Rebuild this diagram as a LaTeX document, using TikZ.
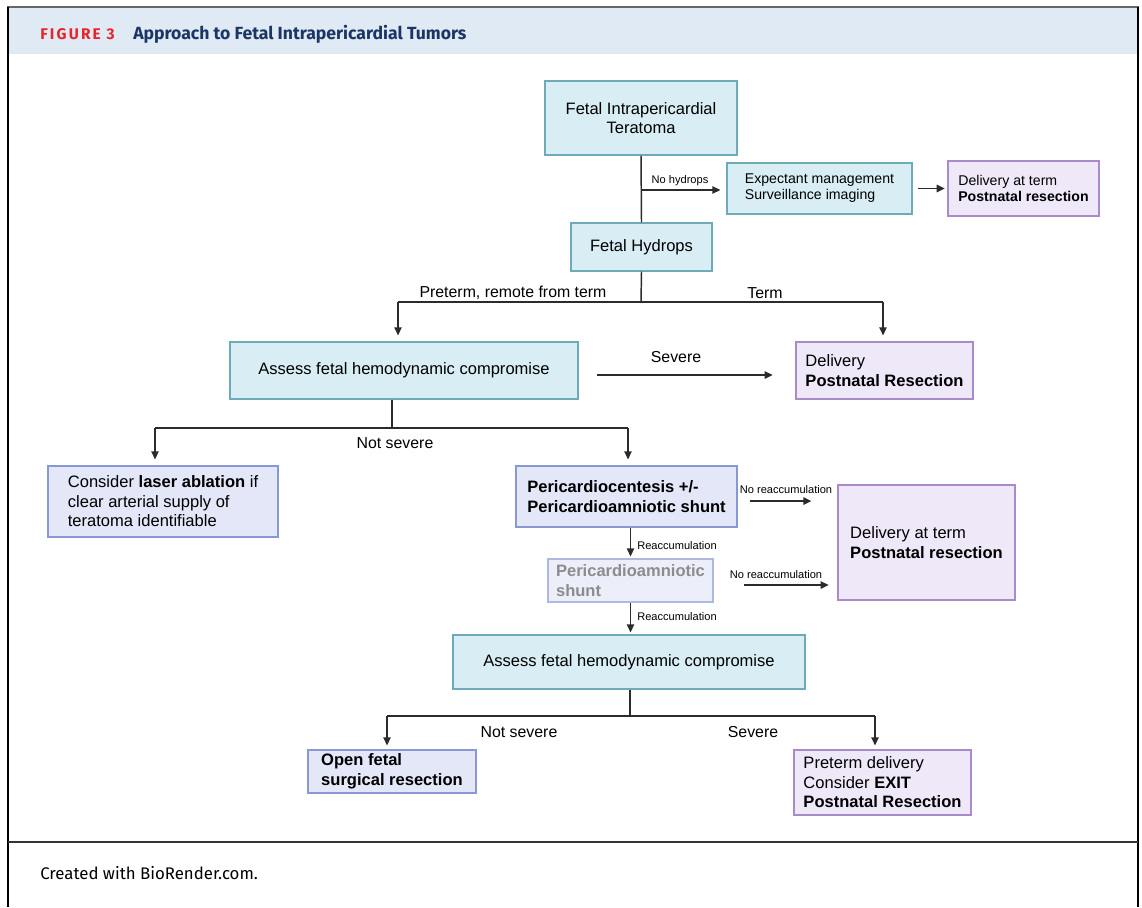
\documentclass[tikz,border=0pt]{standalone}
\usepackage{fontspec}
\setmainfont{Liberation Sans}
\newfontfamily\headfont{Fira Sans}
\newfontfamily\figfont[LetterSpace=14]{Fira Sans}
\usetikzlibrary{arrows.meta,calc}
\definecolor{cyanfill}{HTML}{D8EEF4}
\definecolor{cyanline}{HTML}{6FAAB9}
\definecolor{bluefill}{HTML}{E3E7F8}
\definecolor{blueline}{HTML}{8898D4}
\definecolor{purpfill}{HTML}{EFE8F8}
\definecolor{purpline}{HTML}{A98BC9}
\definecolor{fadefill}{HTML}{ECEFFA}
\definecolor{fadeline}{HTML}{AEB8E2}
\definecolor{fadetext}{HTML}{8C8C8C}
\definecolor{headfill}{HTML}{DFEAF5}
\definecolor{figred}{HTML}{E4262C}
\definecolor{figblue}{HTML}{1B3565}
\definecolor{linecol}{HTML}{2B2B2B}
\tikzset{
  bx/.style 2 args={draw, line width=0.9pt, inner sep=0pt, minimum width=#1*0.75pt, minimum height=#2*0.75pt},
  cyanbox/.style={fill=cyanfill, draw=cyanline},
  bluebox/.style={fill=bluefill, draw=blueline},
  purpbox/.style={fill=purpfill, draw=purpline},
  fadebox/.style={fill=fadefill, draw=fadeline, text=fadetext},
  big/.style={font=\fontsize{12.4}{14.6}\selectfont},
  mid/.style={font=\fontsize{10.6}{12}\selectfont},
  lab/.style={font=\fontsize{11.9}{14}\selectfont, inner sep=0pt},
  tiny/.style={font=\fontsize{8.3}{10}\selectfont, inner sep=0pt},
  conn/.style={draw=linecol, line width=1.1pt},
  arr/.style={conn, -{Triangle[length=6pt,width=5.5pt]}},
}
\begin{document}
\begin{tikzpicture}[x=0.75pt,y=-0.75pt]
\useasboundingbox (0,0) rectangle (1142,907);
% frame and header
\fill[headfill] (8,8) rectangle (1138,54);
\draw[draw=gray!80!black, line width=1.2pt] (7,7) -- (1139,7);
\draw[line width=1.6pt] (8,7) -- (8,907);
\draw[line width=1.6pt] (1138,7) -- (1138,907);
\draw[draw=black!80, line width=1.3pt] (8,842) -- (1138,842);
\node[anchor=base west, inner sep=0pt, text=figred, font=\figfont\bfseries\fontsize{11.6}{12}\selectfont] (figlab) at (40,39) {FIGURE 3};
\node[anchor=base west, inner sep=0pt, text=figblue, font=\headfont\bfseries\fontsize{13.2}{14}\selectfont] (figtitle) at (133,39) {Approach to Fetal Intrapericardial Tumors};
\node[anchor=base west, inner sep=0pt, font=\headfont\fontsize{12.6}{14}\selectfont] (credit) at (40,879) {Created with BioRender.com.};

% boxes
\node[bx={192}{74}, cyanbox, big, align=center] (top) at (641,118) {Fetal Intrapericardial\\Teratoma};
\node[bx={185}{51}, cyanbox, mid, align=left] (exp) at (819.5,188.5) {Expectant management\\Surveillance imaging};
\node[bx={151}{55}, purpbox, mid, align=left] (del1) at (1023.5,188.5) {Delivery at term\\\textbf{Postnatal resection}};
\node[bx={141}{48}, cyanbox, big] (hyd) at (641.5,247) {\raisebox{-1.5pt}{Fetal Hydrops}};
\node[bx={348}{57}, cyanbox, big] (ass1) at (404,370.5) {\raisebox{-1.5pt}{Assess fetal hemodynamic compromise}};
\node[bx={177}{57}, purpbox, big, align=left] (del2) at (884.5,370.5) {Delivery\\\textbf{Postnatal Resection}};
\node[bx={230}{71}, bluebox, big, align=left] (laser) at (163,501.5) {Consider \textbf{laser ablation} if\\clear arterial supply of\\teratoma identifiable};
\node[bx={221}{61}, bluebox, big, align=left, font=\bfseries\fontsize{12.4}{15}\selectfont] (peri) at (626.5,496.5) {Pericardiocentesis +/-\\Pericardioamniotic shunt};
\node[bx={177}{115}, purpbox, big, align=left] (del3) at (926.5,542.5) {Delivery at term\\\textbf{Postnatal resection}};
\node[bx={165}{43}, fadebox, big, align=left, font=\bfseries\fontsize{12.4}{15}\selectfont] (shunt) at (630.5,580.5) {Pericardioamniotic\\shunt};
\node[bx={352}{54}, cyanbox, big] (ass2) at (629,662) {\raisebox{-1.5pt}{Assess fetal hemodynamic compromise}};
\node[bx={168}{43}, bluebox, big, align=left, font=\bfseries\fontsize{12.4}{15}\selectfont] (open) at (392,771.5) {Open fetal\\surgical resection};
\node[bx={177}{65}, purpbox, big, align=left] (pre) at (882.5,782.5) {Preterm delivery\\Consider \textbf{EXIT}\\\textbf{Postnatal Resection}};

% junction coordinates
\coordinate (nh) at (641,190);
\coordinate (j1) at (641,302);
\coordinate (j1l) at (398,302);
\coordinate (j1r) at (883,302);
\coordinate (j2) at (392,428);
\coordinate (j2l) at (155,428);
\coordinate (j2r) at (628,428);
\coordinate (j3) at (630,716);
\coordinate (j3l) at (387,716);
\coordinate (j3r) at (875,716);

% connectors
\draw[conn] (top.south) -- (hyd.north);
\draw[arr, shorten >=4.5pt] (nh) -- (exp.west |- nh);
\draw[arr, shorten <=4pt, shorten >=2pt] (exp.east) -- (del1.west);
\draw[conn] (hyd.south) -- (j1);
\draw[conn] (j1l) -- (j1r);
\draw[arr, shorten >=4.5pt] (j1l) -- (ass1.north -| j1l);
\draw[arr, shorten >=4.5pt] (j1r) -- (del2.north -| j1r);
\draw[arr, shorten <=13.5pt, shorten >=17pt] ([yshift=-3.4pt]ass1.east) -- ([yshift=-3.4pt]del2.west);
\draw[conn] (ass1.south -| j2) -- (j2);
\draw[conn] (j2l) -- (j2r);
\draw[arr, shorten >=4.5pt] (j2l) -- (laser.north -| j2l);
\draw[arr, shorten >=4.5pt] (j2r) -- (peri.north -| j2r);
\draw[arr, shorten <=9pt, shorten >=19.5pt] ([yshift=-3.4pt]peri.east) -- ([yshift=-3.4pt]del3.west |- peri.east);
\draw[arr, shorten >=1.5pt] (peri.south -| shunt.north) -- (shunt.north);
\draw[arr, shorten <=23pt, shorten >=6.5pt] ([yshift=-3.4pt]shunt.east) -- ([yshift=-3.4pt]del3.west |- shunt.east);
\draw[arr, shorten >=1.5pt] (shunt.south) -- (ass2.north -| shunt.south);
\draw[conn] (ass2.south -| j3) -- (j3);
\draw[conn] (j3l) -- (j3r);
\draw[arr, shorten >=3pt] (j3l) -- (open.north -| j3l);
\draw[arr, shorten >=3pt] (j3r) -- (pre.north -| j3r);

% labels
\node[tiny] (lnh) at (680,181) {No hydrops};
\node[lab] (lpre) at (513,293) {Preterm, remote from term};
\node[lab] (lterm) at (765,293) {Term};
\node[lab] (lsev1) at (676,357) {Severe};
\node[lab] (lns1) at (395,443) {Not severe};
\node[tiny] (lnr1) at (786,490) {No reaccumulation};
\node[tiny] (lre1) at (677,546) {Reaccumulation};
\node[tiny] (lnr2) at (776,575) {No reaccumulation};
\node[tiny] (lre2) at (677,617) {Reaccumulation};
\node[lab] (lns2) at (519,732) {Not severe};
\node[lab] (lsev2) at (753,732) {Severe};
\end{tikzpicture}
\end{document}
